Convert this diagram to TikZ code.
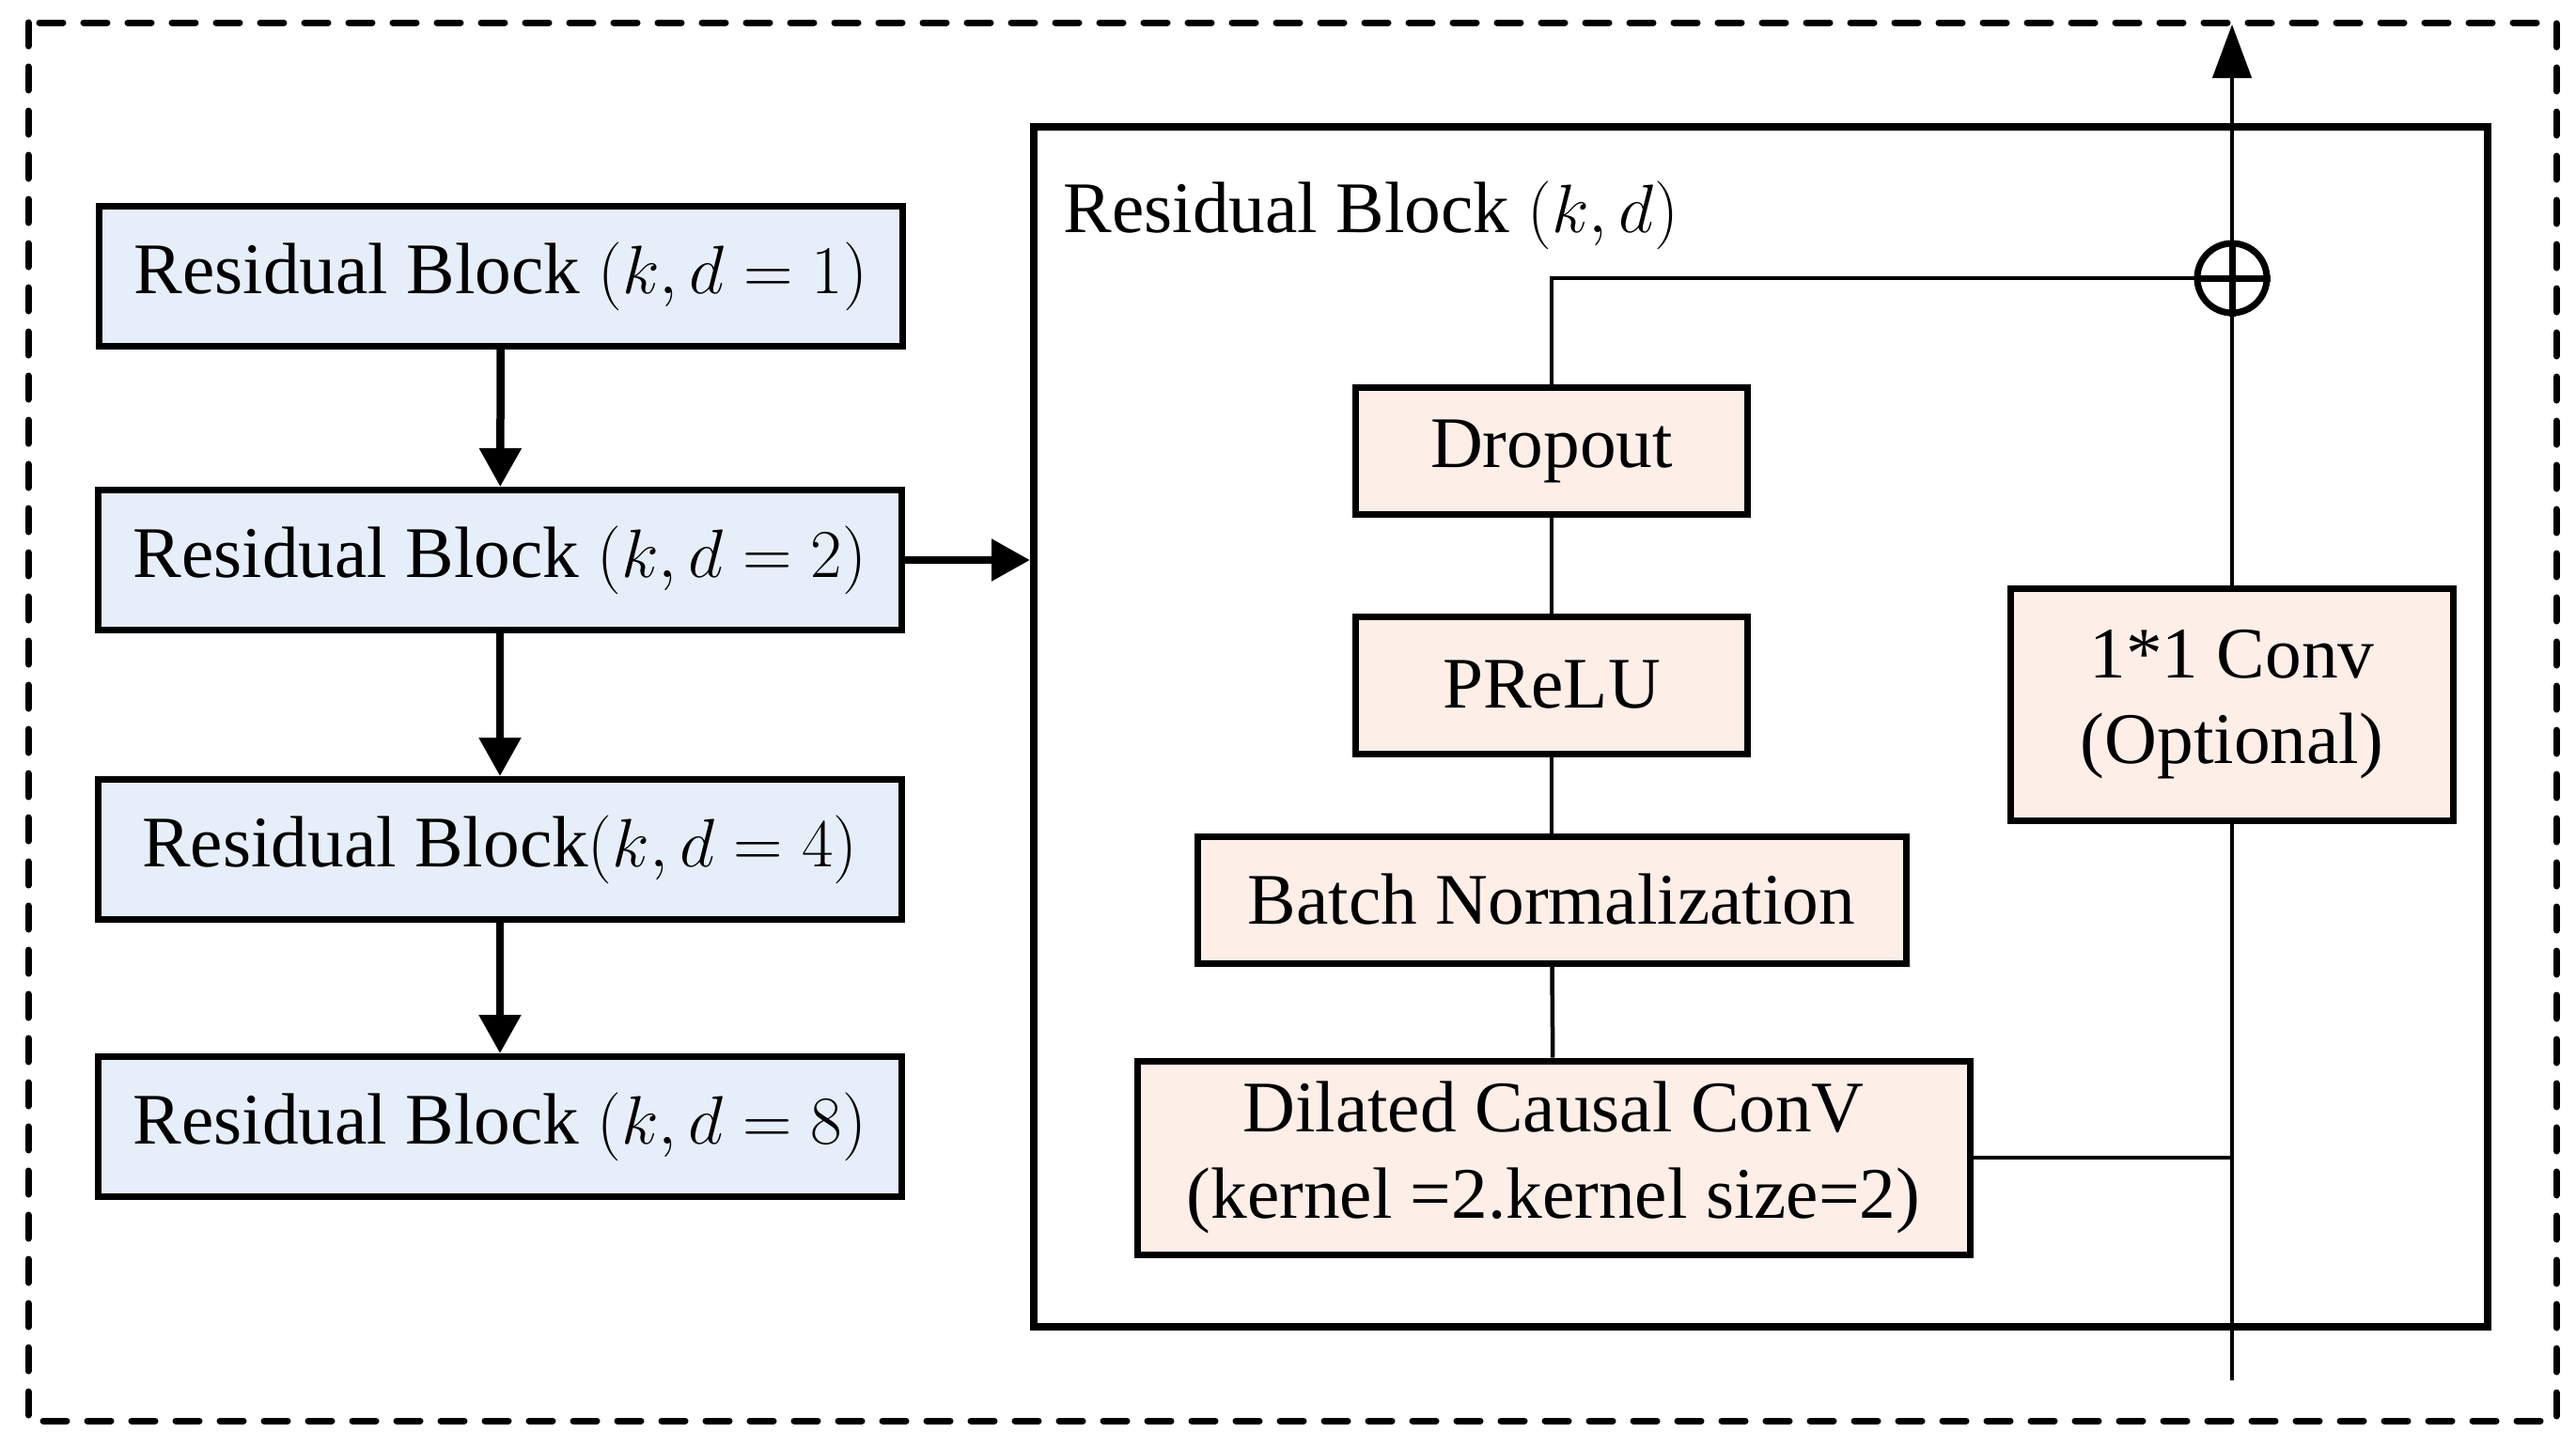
\documentclass[tikz,border=0pt]{standalone}
\usepackage{fontspec}
\setmainfont{Liberation Serif}
\usetikzlibrary{arrows.meta}
\definecolor{blockblue}{RGB}{230,238,250}
\definecolor{blockpink}{RGB}{253,238,232}
\tikzset{
    lbox/.style={draw,fill=blockblue,line width=0.07cm,inner sep=0pt,minimum width=8.55cm,minimum height=1.49cm},
    ibox/.style={draw,fill=blockpink,line width=0.07cm,inner sep=0pt,align=center},
    thin line/.style={line width=0.045cm},
    thick arrow/.style={line width=0.085cm,-{Triangle[length=0.41cm,width=0.43cm]}}
}
\begin{document}
\begin{tikzpicture}[font=\fontsize{22}{26}\selectfont]
        \useasboundingbox (0,0) rectangle (27.41,-15.41);
        \draw[line width=0.07cm,line cap=round,dash pattern=on 0.25cm off 0.22cm] (0.30,-0.24) rectangle (27.20,-15.12);

        \node[lbox] (rb1) at (5.33,-2.94)  {Residual Block $(k,d = 1)$};
        \node[lbox] (rb2) at (5.32,-5.96)  {Residual Block $(k,d = 2)$};
        \node[lbox] (rb3) at (5.32,-9.04)  {Residual Block$(k,d = 4)$};
        \node[lbox] (rb4) at (5.32,-11.99) {Residual Block $(k,d = 8)$};

        \node[draw,line width=0.08cm,inner sep=0pt,minimum width=15.47cm,minimum height=12.77cm] (rbk) at (18.735,-7.735) {};
        \node[anchor=base west,inner sep=0pt] (rbklabel) at (11.31,-2.47) {Residual Block $(k,d)$};

        \node[ibox,minimum width=4.17cm,minimum height=1.35cm] (drop)  at (16.51,-4.80)  {Dropout};
        \node[ibox,minimum width=4.17cm,minimum height=1.46cm] (prelu) at (16.51,-7.29)  {PReLU};
        \node[ibox,minimum width=7.54cm,minimum height=1.35cm] (bn)    at (16.51,-9.575) {Batch Normalization};
        \node[ibox,minimum width=8.86cm,minimum height=2.06cm] (dcc)   at (16.53,-12.32) {Dilated Causal ConV\\(kernel =2.kernel size=2)};
        \node[ibox,minimum width=4.71cm,minimum height=2.47cm] (conv)  at (23.75,-7.495) {1*1 Conv\\(Optional)};
        \node[circle,draw,line width=0.07cm,inner sep=0pt,minimum size=0.74cm] (add) at (23.75,-2.96) {};
        \coordinate (in)  at (23.75,-14.69);
        \coordinate (out) at (23.75,-0.26);

        \draw[thick arrow] (rb1) -- (rb2);
        \draw[thick arrow] (rb2) -- (rb3);
        \draw[thick arrow] (rb3) -- (rb4);
        \draw[thick arrow] (rb2.east) -- (rb2.east -| rbk.west);

        \draw[thin line] (drop) -- (prelu);
        \draw[thin line] (prelu) -- (bn);
        \draw[thin line] (bn) -- (dcc);
        \draw[thin line] (drop.north) |- (add.west);
        \draw[thin line] (in) -- (conv.south);
        \draw[thin line] (dcc.east) -- (dcc.east -| in);
        \draw[thin line] (conv.north) -- (add.south);
        \draw[line width=0.07cm] (add.north) -- (add.south) (add.west) -- (add.east);
        \draw[thin line,-{Triangle[length=0.57cm,width=0.41cm]}] (add.north) -- (out);
    \end{tikzpicture}
\end{document}
